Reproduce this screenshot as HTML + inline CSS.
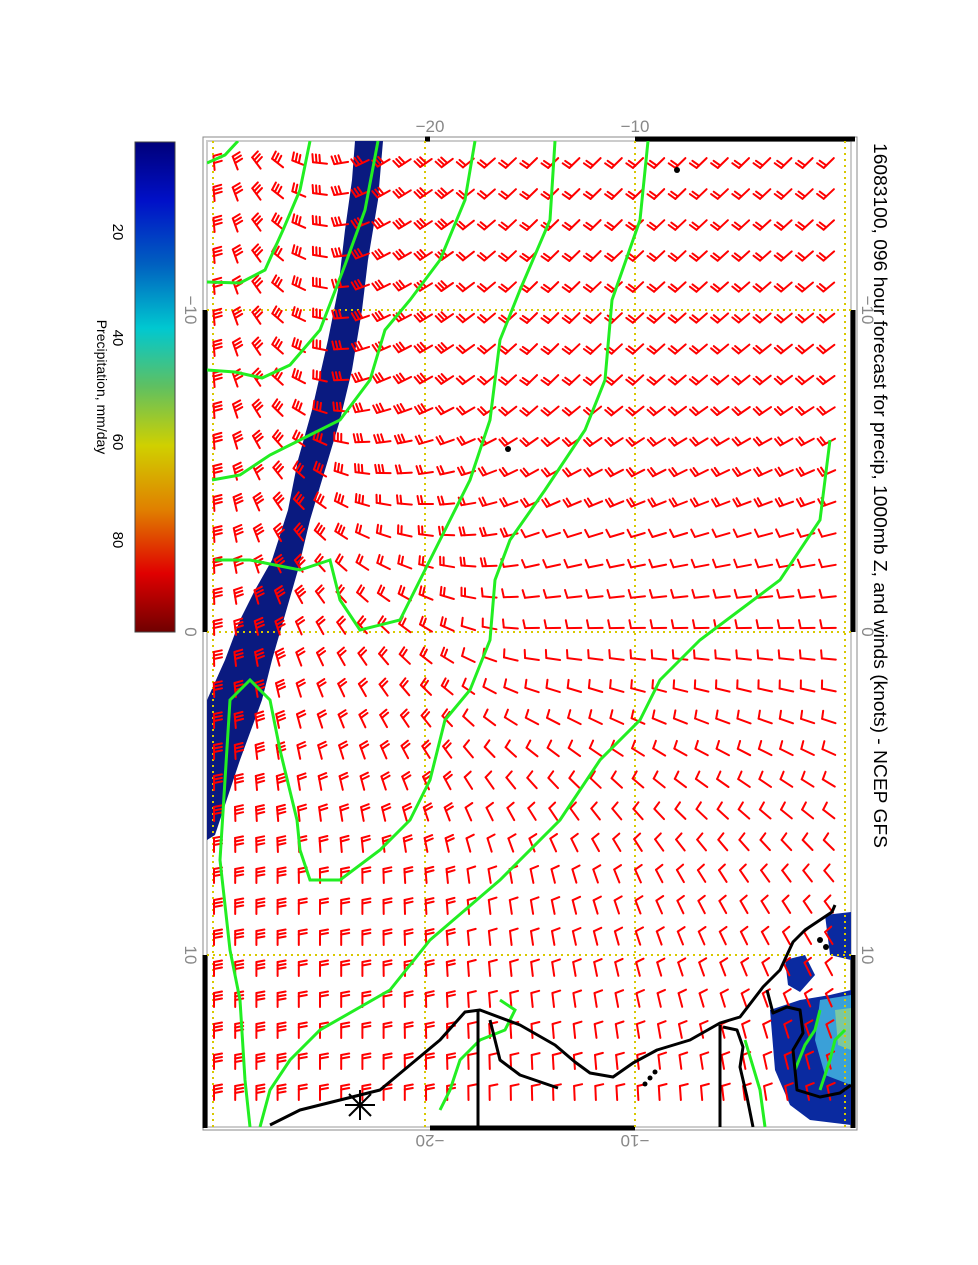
<!DOCTYPE html>
<html><head><meta charset="utf-8"><style>
html,body{margin:0;padding:0;background:#fff;}
svg{display:block;font-family:"Liberation Sans",sans-serif;}
</style></head><body>
<svg id="s" width="978" height="1265" viewBox="0 0 978 1265" xmlns="http://www.w3.org/2000/svg">
<defs>
<linearGradient id="cb" x1="0" y1="0" x2="0" y2="1">
<stop offset="0" stop-color="#00007a"/>
<stop offset="0.12" stop-color="#0010c8"/>
<stop offset="0.25" stop-color="#0060c0"/>
<stop offset="0.38" stop-color="#00c8d0"/>
<stop offset="0.5" stop-color="#60c060"/>
<stop offset="0.62" stop-color="#d0d000"/>
<stop offset="0.75" stop-color="#e08000"/>
<stop offset="0.88" stop-color="#e00000"/>
<stop offset="1" stop-color="#700000"/>
</linearGradient>
<clipPath id="fr"><rect x="207" y="141" width="644" height="986"/></clipPath>
</defs>
<rect x="135" y="142" width="40" height="490" fill="url(#cb)" stroke="#444"/>
<g font-size="15" fill="#000">
<text transform="translate(113,232) rotate(90)" text-anchor="middle">20</text>
<text transform="translate(113,338) rotate(90)" text-anchor="middle">40</text>
<text transform="translate(113,442) rotate(90)" text-anchor="middle">60</text>
<text transform="translate(113,540) rotate(90)" text-anchor="middle">80</text>
<text transform="translate(97,387) rotate(90)" text-anchor="middle" font-size="14">Precipitation, mm/day</text>
<text transform="translate(874,143) rotate(90)" font-size="18" textLength="705" lengthAdjust="spacingAndGlyphs">16083100, 096 hour forecast for precip, 1000mb Z, and winds (knots) - NCEP GFS</text>
</g>
<g font-size="17" fill="#888" text-anchor="middle">
<text x="430" y="132">−20</text>
<text x="635" y="132">−10</text>
<text transform="translate(430,1135) rotate(180)">−20</text>
<text transform="translate(635,1135) rotate(180)">−10</text>
<text transform="translate(185,310) rotate(90)">−10</text>
<text transform="translate(185,632) rotate(90)">0</text>
<text transform="translate(185,955) rotate(90)">10</text>
<text transform="translate(862,310) rotate(90)">−10</text>
<text transform="translate(862,632) rotate(90)">0</text>
<text transform="translate(862,955) rotate(90)">10</text>
</g>
<rect x="203" y="137" width="654" height="993" fill="none" stroke="#888" stroke-width="1"/>
<rect x="207" y="141" width="644" height="986" fill="none" stroke="#ccc" stroke-width="2"/>
<g stroke="#000" stroke-width="5">
<line x1="205" y1="310" x2="205" y2="632"/><line x1="205" y1="955" x2="205" y2="1128"/>
<line x1="853" y1="310" x2="853" y2="632"/><line x1="853" y1="955" x2="853" y2="1128"/>
<line x1="635" y1="139" x2="855" y2="139"/><line x1="425" y1="139" x2="430" y2="139"/>
<line x1="430" y1="1128" x2="635" y2="1128"/>
</g>
<g clip-path="url(#fr)">
<polygon fill="#0a1a80" points="355,141 383,141 378,200 368,260 362,310 352,370 340,420 325,470 310,520 298,570 285,615 272,660 262,700 240,760 215,835 207,840 207,700 225,660 240,620 255,590 272,560 288,510 298,460 312,410 328,340 338,290 345,230 352,180"/>
<g fill="#0a2aa0">
<polygon points="770,1010 800,1000 830,995 851,990 851,1125 810,1120 790,1105 775,1070"/>
<polygon points="785,960 805,955 815,975 800,992 788,985"/>
<polygon points="825,915 851,912 851,960 830,955"/>
</g>
<polygon fill="#3aa0d8" points="820,1000 851,995 851,1085 825,1075 815,1040"/>
<polygon fill="#7cc8a0" points="835,1010 851,1008 851,1050 838,1045"/>
<g stroke="#d8c800" stroke-width="2" stroke-dasharray="2,4" fill="none">
<line x1="213" y1="141" x2="213" y2="1127"/><line x1="425" y1="141" x2="425" y2="1127"/>
<line x1="635" y1="141" x2="635" y2="1127"/><line x1="845" y1="141" x2="845" y2="1127"/>
<line x1="207" y1="310" x2="851" y2="310"/><line x1="207" y1="632" x2="851" y2="632"/>
<line x1="207" y1="955" x2="851" y2="955"/>
</g>
<g id="barbs" stroke="#f00" stroke-width="2" fill="none" stroke-linecap="round"></g>
<g stroke="#22ee22" stroke-width="3" fill="none">
<polyline points="238,141 225,155 207,163"/>
<polyline points="310,141 300,190 283,230 265,270 240,283 207,282"/>
<polyline points="378,141 365,210 345,265 320,330 290,365 262,378 235,372 207,370"/>
<polyline points="475,141 465,200 440,260 410,300 385,330 370,380 340,420 300,440 270,455 240,475 212,480"/>
<polyline points="555,141 550,220 520,290 500,340 490,420 470,480 440,540 420,580 400,620 360,630 340,600 330,560 300,570 250,560 215,560"/>
<polyline points="648,141 640,220 612,300 605,380 585,430 545,490 510,540 495,580 490,640 470,690 445,720 430,780 410,820 380,850 340,880 310,880 300,850 297,820 280,750 270,700 250,680 230,700 225,780 220,860 230,950 240,1000 245,1080 250,1127"/>
<polyline points="830,440 820,520 780,580 740,610 700,640 660,680 640,720 600,760 560,820 500,880 430,940 390,990 320,1030 290,1060 270,1090 260,1127"/>
<polyline points="500,1000 515,1010 505,1030 480,1040 460,1060 450,1090 440,1110"/>
<polyline points="745,1040 760,1090 765,1127"/>
<polyline points="820,1090 830,1060 835,1040 845,1030"/>
<polyline points="795,1070 805,1045 815,1030 820,1010"/>
</g>
<g stroke="#000" stroke-width="3" fill="none" stroke-linejoin="round">
<polyline points="835,905 832,912 805,930 793,942 780,970 763,987 740,1017 720,1023 690,1040 657,1050 633,1063 613,1077 590,1073 575,1062 555,1045 520,1025 480,1010 465,1012 440,1040 410,1065 380,1090 340,1100 300,1110 270,1125"/>
<polyline points="478,1010 478,1127"/>
<polyline points="490,1020 500,1060 520,1075 558,1088"/>
<polyline points="720,1025 720,1127"/>
<polyline points="723,1027 737,1030 743,1047 740,1067 747,1097 753,1127"/>
<polyline points="767,990 773,1013 787,1007 800,1010 803,1033 793,1050 797,1090 820,1097 840,1093 851,1085"/>
</g>
<g fill="#000"><circle cx="508" cy="449" r="3"/><circle cx="677" cy="170" r="3"/><circle cx="655" cy="1072" r="2.5"/><circle cx="650" cy="1078" r="2.5"/><circle cx="645" cy="1084" r="2.5"/><circle cx="820" cy="940" r="3"/><circle cx="826" cy="947" r="3"/></g>
<g stroke="#000" stroke-width="2"><line x1="345" y1="1105" x2="375" y2="1105"/><line x1="360" y1="1090" x2="360" y2="1120"/><line x1="349" y1="1094" x2="371" y2="1116"/><line x1="371" y1="1094" x2="349" y2="1116"/></g>
</g>
</svg>
<script>
(function(){
var g=document.getElementById('barbs'),out='';
var TH=[[0,-120,-135,-135,-135],[0,-110,-135,-130,-125],[0,-40,-90,-90,-90],[0,0,-10,-30,-40],[0,0,0,0,-10]];
var NN=[[3,3,2,2,2],[3,3,2,2,2],[3,2,1,1,1],[3,2,1,1,1],[3,2,1,1,1]];
function bil(G,fx,fy){var gx=Math.min(3.999,fx*4),gy=Math.min(3.999,fy*4);var i=Math.floor(gx),j=Math.floor(gy),u=gx-i,v=gy-j;
return G[j][i]*(1-u)*(1-v)+G[j][i+1]*u*(1-v)+G[j+1][i]*(1-u)*v+G[j+1][i+1]*u*v;}
for(var j=0;j<31;j++){for(var i=0;i<31;i++){
var cx=214+i*21.2,cy=163+j*31;if(cx>848||cy>1100)continue;
var fx=(cx-207)/644,fy=(cy-141)/986;
var th=bil(TH,fx,fy),n=Math.round(bil(NN,fx,fy));
var r=th*Math.PI/180,dx=Math.sin(r),dy=-Math.cos(r),L=14;
var x=cx-dx*L/2,y=cy-dy*L/2;
var tx=x+dx*L,ty=y+dy*L;
var px=Math.cos(r),py=Math.sin(r);
out+='<line x1="'+x.toFixed(1)+'" y1="'+y.toFixed(1)+'" x2="'+tx.toFixed(1)+'" y2="'+ty.toFixed(1)+'"/>';
for(var k=0;k<n;k++){var bx=x+dx*(L-k*3.5),by=y+dy*(L-k*3.5);
out+='<line x1="'+bx.toFixed(1)+'" y1="'+by.toFixed(1)+'" x2="'+(bx+px*8+dx*1.5).toFixed(1)+'" y2="'+(by+py*8+dy*1.5).toFixed(1)+'"/>';}
}}
g.innerHTML=out;
})();
</script>
</body></html>
